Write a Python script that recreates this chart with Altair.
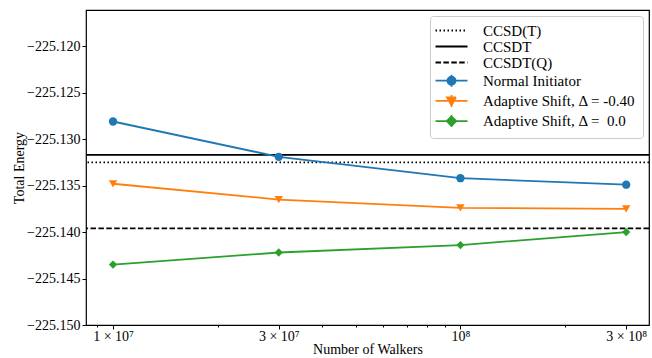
import altair as alt
import pandas as pd

# ---- data ----
walkers = [1e7, 3e7, 1e8, 3e8]
normal = [-225.1281, -225.1319, -225.1342, -225.1349]
shift_m040 = [-225.1348, -225.1365, -225.1374, -225.1375]
shift_00 = [-225.1435, -225.1422, -225.1414, -225.1400]

ref_names = ["CCSD(T)", "CCSDT", "CCSDT(Q)"]
ref_values = [-225.1325, -225.1317, -225.1396]
ref_dashes = [[1.5, 2.5], [1, 0], [5.5, 2.4]]

series_names = ["Normal Initiator", "Adaptive Shift, \u0394 = -0.40", "Adaptive Shift, \u0394 = \u00a00.0"]
series_colors = ["#1f77b4", "#ff7f0e", "#2ca02c"]
series_shapes = ["circle", "triangle-down", "diamond"]

major_ticks = [1e7, 3e7, 1e8, 3e8]
minor_ticks = [9e6, 2e7, 4e7, 5e7, 6e7, 7e7, 8e7, 9e7, 2e8]
y_ticks = [-225.150, -225.145, -225.140, -225.135, -225.130, -225.125, -225.120]

FONT = "Liberation Serif"

all_names = ref_names + series_names
all_colors = ["black"] * 3 + series_colors
all_dash = ref_dashes + [[1, 0], [1, 0], [1, 0]]

line_p = "M-3.2,0H3.2"
bar_p = "M0,-1.2V1.2"
circ_p = "M-0.8,0A0.8,0.8,0,1,0,0.8,0A0.8,0.8,0,1,0,-0.8,0Z"
tri_p = "M-0.9,-0.7L0.9,-0.7L0,0.9Z"
dia_p = "M0,-0.95L0.95,0L0,0.95L-0.95,0Z"
legend_shapes = [line_p, line_p, line_p,
                 line_p + bar_p + circ_p, line_p + bar_p + tri_p, line_p + bar_p + dia_p]

rows = []
for name, vals in zip(series_names, [normal, shift_m040, shift_00]):
    for w, v in zip(walkers, vals):
        rows.append({"walkers": w, "energy": v, "series": name})
df = pd.DataFrame(rows)
ref_df = pd.DataFrame({"series": ref_names, "energy": ref_values})
leg_df = pd.DataFrame({"series": all_names})

x_scale = alt.Scale(type="log", domain=[8.36e6, 3.49e8], nice=False)
y_scale = alt.Scale(domain=[-225.150, -225.1161], nice=False, zero=False)

label_expr = ("datum.value == 1e7 ? '1 \u00d7 10\u2077' : datum.value == 3e7 ? '3 \u00d7 10\u2077' : "
              "datum.value == 1e8 ? '10\u2078' : '3 \u00d7 10\u2078'")

x_enc = alt.X("walkers:Q", scale=x_scale,
              axis=alt.Axis(values=major_ticks, labelExpr=label_expr, title="Number of Walkers",
                            orient="bottom", tickSize=4, domain=False, grid=False,
                            labelFont=FONT, titleFont=FONT, titleFontWeight="normal",
                            labelColor="black", titleColor="black", tickColor="black",
                            labelFontSize=14, titleFontSize=14, labelPadding=0,
                            titleY=17, titleBaseline="top"))
y_enc = alt.Y("energy:Q", scale=y_scale,
              axis=alt.Axis(values=y_ticks, format=".3f", title="Total Energy",
                            tickSize=4, domain=False, grid=False,
                            labelFont=FONT, titleFont=FONT, titleFontWeight="normal",
                            labelColor="black", titleColor="black", tickColor="black",
                            labelFontSize=14, titleFontSize=14, labelPadding=2, titlePadding=0))

layers = []
# reference horizontal lines
for name, dash in zip(ref_names, ref_dashes):
    layers.append(
        alt.Chart(ref_df).transform_filter(alt.datum.series == name)
        .mark_rule(color="black", strokeWidth=1.8, strokeDash=dash)
        .encode(y=y_enc)
    )
# series lines + markers
for name, col, shape in zip(series_names, series_colors, series_shapes):
    base = alt.Chart(df).transform_filter(alt.datum.series == name).encode(x=x_enc, y=y_enc)
    layers.append(base.mark_line(color=col, strokeWidth=1.8))
    layers.append(base.mark_point(color=col, filled=True, shape=shape, size=70, opacity=1))

inner = alt.layer(*layers)

# minor ticks on the log axis (separate axis, overlaid at the bottom)
minor_layer = alt.Chart(df).mark_point(opacity=0).encode(
    x=alt.X("walkers:Q", scale=x_scale,
            axis=alt.Axis(values=minor_ticks, labels=False, title=None, orient="bottom",
                          tickSize=2, domain=False, grid=False, tickColor="black")),
)

# legend driven by its own (empty) layer
legend_layer = alt.Chart(leg_df).transform_filter("false").mark_point(
    filled=True, size=100, strokeWidth=1.8, opacity=1
).encode(
    color=alt.Color("series:N", scale=alt.Scale(domain=all_names, range=all_colors),
                    legend=alt.Legend(title=None, orient="top-right", offset=6,
                                      labelFont=FONT, labelFontSize=15, labelColor="black",
                                      symbolSize=100, symbolOpacity=1,
                                      symbolStrokeWidth=1.8, rowPadding=-0.8,
                                      symbolOffset=7, labelOffset=24,
                                      fillColor="white", strokeColor="#cccccc",
                                      cornerRadius=3, padding=7, labelLimit=400)),
    stroke=alt.Stroke("series:N", scale=alt.Scale(domain=all_names, range=all_colors)),
    strokeDash=alt.StrokeDash("series:N", scale=alt.Scale(domain=all_names, range=all_dash)),
    shape=alt.Shape("series:N", scale=alt.Scale(domain=all_names, range=legend_shapes)),
)

chart = alt.layer(
    inner, minor_layer, legend_layer
).resolve_axis(
    x="independent"
).properties(
    width=563, height=315,
    autosize=alt.AutoSizeParams(type="none"),
    padding={"left": 86, "top": 10, "right": 3, "bottom": 33},
).configure_view(
    stroke="black", strokeWidth=1.2
)

chart.save("out.html", embed_options={"renderer": "svg", "actions": False})
